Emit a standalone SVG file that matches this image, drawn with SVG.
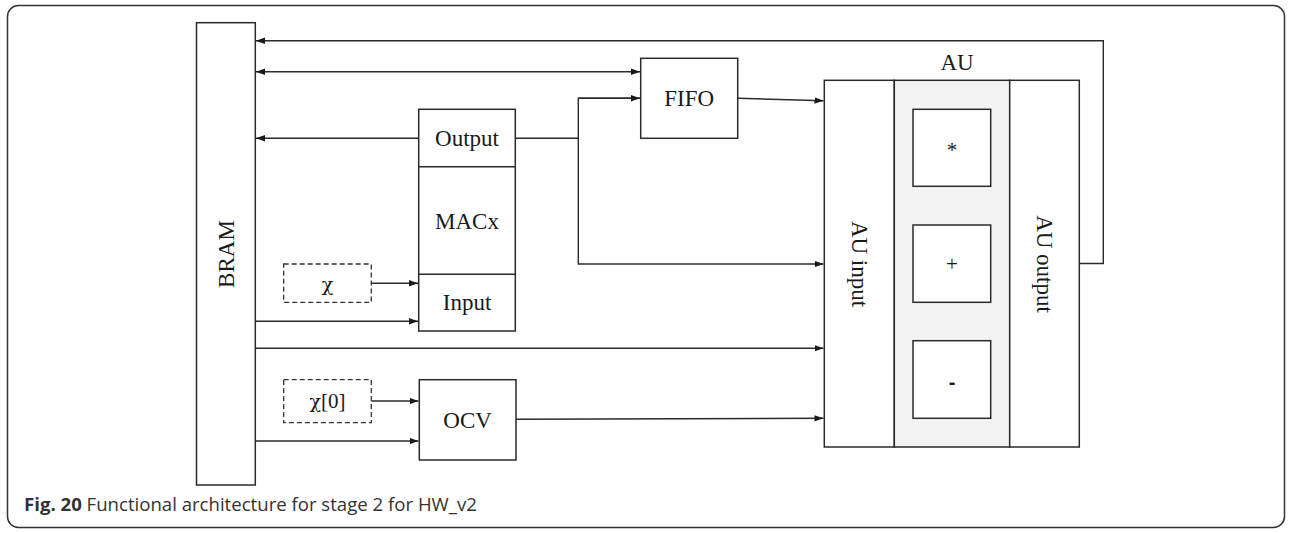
<svg xmlns="http://www.w3.org/2000/svg" width="1291" height="533" viewBox="0 0 1291 533">
<style>
.box{fill:#fff;stroke:#2a2a2a;stroke-width:1.5}
.dash{fill:#fff;stroke:#333;stroke-width:1.3;stroke-dasharray:5,3}
.ln{fill:none;stroke:#2a2a2a;stroke-width:1.4}
.t{font-family:"Liberation Serif","Times New Roman",serif;font-size:23px;fill:#1a1a1a;text-anchor:middle;dominant-baseline:central}
.s{font-family:"Liberation Serif","Times New Roman",serif;font-size:21px;fill:#1a1a1a;text-anchor:middle;dominant-baseline:central}
.g{font-family:"DejaVu Serif","Liberation Serif",serif;font-size:19px}
.cap{font-family:"Open Sans","Noto Sans",sans-serif;font-size:18.6px;fill:#333}
</style>
<defs>
<marker id="ah" markerWidth="10" markerHeight="8" refX="9" refY="4" orient="auto" markerUnits="userSpaceOnUse">
<path d="M0,0.8 L9,4 L0,7.2 Z" fill="#1a1a1a"/>
</marker>
<marker id="ahs" markerWidth="10" markerHeight="8" refX="1" refY="4" orient="auto" markerUnits="userSpaceOnUse">
<path d="M10,0.8 L1,4 L10,7.2 Z" fill="#1a1a1a"/>
</marker>
</defs>
<rect x="7.5" y="5.5" width="1277" height="522" rx="11" fill="none" stroke="#333" stroke-width="1.5"/>

<g id="connectors">
<polyline class="ln" points="1079.3,263.5 1103.3,263.5 1103.3,40.7 256,40.7" marker-end="url(#ah)"/>
<line class="ln" x1="256" y1="71.7" x2="640" y2="71.7" marker-start="url(#ahs)" marker-end="url(#ah)"/>
<line class="ln" x1="418.7" y1="138.3" x2="256" y2="138.3" marker-end="url(#ah)"/>
<polyline class="ln" points="515.3,138.3 578.3,138.3"/>
<polyline class="ln" points="640,98.3 578.3,98.3 578.3,264 823.5,264" marker-end="url(#ah)"/>
<line class="ln" x1="578.3" y1="98.3" x2="640" y2="98.3" marker-end="url(#ah)"/>
<line class="ln" x1="737.7" y1="98.3" x2="823.5" y2="100.7" marker-end="url(#ah)"/>
<line class="ln" x1="371.3" y1="283.3" x2="418" y2="283.3" marker-end="url(#ah)"/>
<line class="ln" x1="255.3" y1="321.3" x2="418" y2="321.3" marker-end="url(#ah)"/>
<line class="ln" x1="255.3" y1="348.3" x2="823.5" y2="348.3" marker-end="url(#ah)"/>
<line class="ln" x1="371.3" y1="401" x2="418.5" y2="401" marker-end="url(#ah)"/>
<line class="ln" x1="255.3" y1="441" x2="418.5" y2="441" marker-end="url(#ah)"/>
<line class="ln" x1="516" y1="419.3" x2="823.5" y2="418.3" marker-end="url(#ah)"/>
</g>

<g id="bram">
<rect class="box" x="196.5" y="22.7" width="58.8" height="462.3"/>
<text class="t" transform="translate(226,254) rotate(-90)">BRAM</text>
</g>

<g id="fifo">
<rect class="box" x="640.7" y="58.3" width="97" height="80"/>
<text class="t" x="689.2" y="98.3">FIFO</text>
</g>

<g id="macx">
<rect class="box" x="418.7" y="109.3" width="96.6" height="221.7"/>
<line class="ln" x1="418.7" y1="166.7" x2="515.3" y2="166.7"/>
<line class="ln" x1="418.7" y1="274.3" x2="515.3" y2="274.3"/>
<text class="t" x="467" y="138">Output</text>
<text class="t" x="467" y="221.5">MACx</text>
<text class="t" x="467" y="302.6">Input</text>
</g>

<g id="chi">
<rect class="dash" x="283.7" y="264" width="87.6" height="38.3"/>
<text class="s" x="327.5" y="283.5"><tspan class="g">χ</tspan></text>
</g>

<g id="chi0">
<rect class="dash" x="283.7" y="379.7" width="87.6" height="43"/>
<text class="s" x="327.5" y="401"><tspan class="g">χ</tspan>[0]</text>
</g>

<g id="ocv">
<rect class="box" x="419.3" y="379.7" width="96.7" height="80.3"/>
<text class="t" x="467.6" y="420">OCV</text>
</g>

<g id="au">
<text class="t" x="957" y="62">AU</text>
<rect class="box" x="824.3" y="80.3" width="70" height="366.7"/>
<rect x="894.3" y="80.3" width="115.4" height="366.7" fill="#f3f3f3" stroke="#2a2a2a" stroke-width="1.5"/>
<rect class="box" x="1009.7" y="80.3" width="69.6" height="366.7"/>
<text class="t" transform="translate(859.3,264) rotate(90)">AU input</text>
<text class="t" transform="translate(1044.5,264) rotate(90)">AU output</text>
<g id="mul">
<rect class="box" x="913" y="109.3" width="77.7" height="77"/>
<text class="s" x="952" y="150">*</text>
</g>
<g id="add">
<rect class="box" x="913" y="225" width="77.7" height="77.3"/>
<text class="s" x="952" y="263.6">+</text>
</g>
<g id="sub">
<rect class="box" x="913" y="340.7" width="77.7" height="77.6"/>
<text x="952" y="382" font-family="Liberation Sans, Arial, sans-serif" font-size="20" font-weight="bold" fill="#1a1a1a" text-anchor="middle" dominant-baseline="central">-</text>
</g>
</g>

<text class="cap" x="24" y="511"><tspan font-weight="bold">Fig. 20</tspan> Functional architecture for stage 2 for HW_v2</text>
</svg>
